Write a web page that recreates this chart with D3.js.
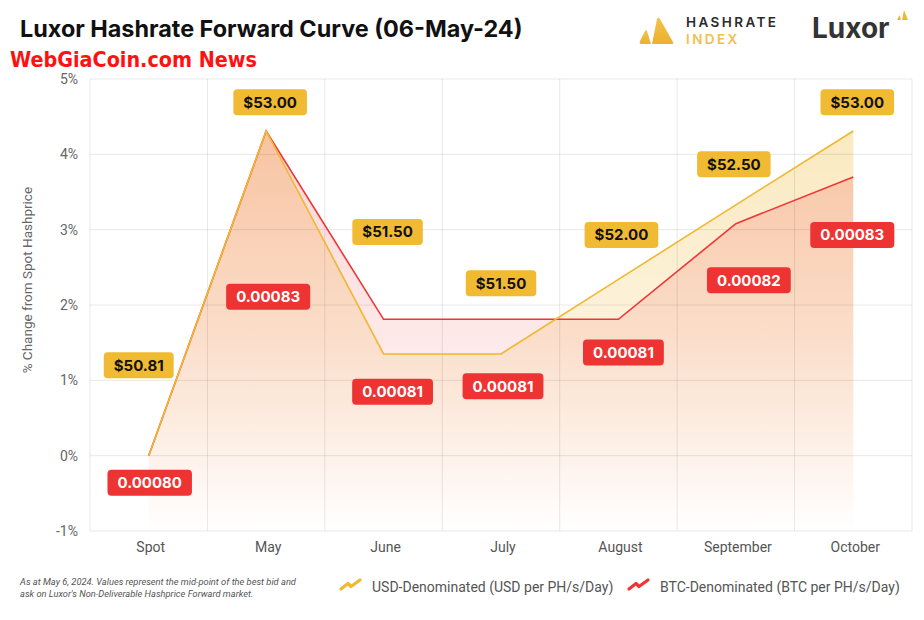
<!DOCTYPE html>
<html><head><meta charset="utf-8">
<script src="https://cdn.jsdelivr.net/npm/d3@7"></script>
<style>
html,body{margin:0;padding:0;background:#fff;}
svg{display:block;}
</style></head>
<body>
<svg id="chart" width="924" height="620"></svg>
<script>
// ---- data ----
const categories = ["Spot","May","June","July","August","September","October"];
const usdPct = [0, 4.31, 1.35, 1.35, 2.34, 3.33, 4.31];
const btcPct = [0, 4.31, 1.81, 1.81, 1.81, 3.08, 3.70];
const usdLabels = ["$50.81","$53.00","$51.50","$51.50","$52.00","$52.50","$53.00"];
const btcLabels = ["0.00080","0.00083","0.00081","0.00081","0.00081","0.00082","0.00083"];
const yTicks = [-1,0,1,2,3,4,5];
const seriesNames = ["USD-Denominated (USD per PH/s/Day)","BTC-Denominated (BTC per PH/s/Day)"];
// label placement (value-axis units and px nudges)
const usdLabelAt = [1.20, 4.69, 2.97, 2.29, 2.93, 3.87, 4.69];
const usdLabelDx = [-10, 4, 4, 0, 3, -2, 4];
const btcLabelAt = [-0.36, 2.11, 0.85, 0.92, 1.37, 2.33, 2.93];
const btcLabelDx = [1, 2, 9, 2, 5, 13, -1];

const YEL = "#F0B72F", RED = "#EE3535";
const svg = d3.select("#chart");
const m = {l:90, r:12, t:79, b:89};
const W = 924, H = 620;
const x = d3.scaleBand().domain(categories).range([m.l, W-m.r]).padding(0);
const y = d3.scaleLinear().domain([-1,5]).range([H-m.b, m.t]);
const cx = c => x(c) + x.bandwidth()/2;

const defs = svg.append("defs");
function grad(id, color, op){
  const g = defs.append("linearGradient").attr("id", id).attr("gradientUnits","userSpaceOnUse")
    .attr("x1",0).attr("x2",0).attr("y1", y(4.6)).attr("y2", y(-1));
  g.append("stop").attr("offset","0").attr("stop-color",color).attr("stop-opacity",op);
  g.append("stop").attr("offset","0.55").attr("stop-color",color).attr("stop-opacity",op*0.5);
  g.append("stop").attr("offset","1").attr("stop-color",color).attr("stop-opacity",0);
}
grad("gy", YEL, 0.32);
grad("gr", RED, 0.22);

// areas
const area = vals => d3.area().x((d,i)=>cx(categories[i])).y0(y(-1)).y1(d=>y(d))(vals);
svg.append("path").attr("d", area(usdPct)).attr("fill","url(#gy)");
svg.append("path").attr("d", area(btcPct)).attr("fill","url(#gr)");

// grid
const grid = svg.append("g");
grid.selectAll(".h").data(yTicks).join("line")
  .attr("x1", m.l).attr("x2", W-m.r).attr("y1", d=>y(d)).attr("y2", d=>y(d))
  .attr("stroke","#000").attr("stroke-opacity",0.09).attr("stroke-width",1);
const vb = categories.map(c=>x(c)).concat([W-m.r]);
grid.selectAll(".v").data(vb).join("line")
  .attr("x1", d=>d).attr("x2", d=>d).attr("y1", y(5)).attr("y2", y(-1))
  .attr("stroke","#000").attr("stroke-opacity",0.09).attr("stroke-width",1);

// y axis
const yAxis = d3.axisLeft(y).tickValues(yTicks).tickFormat(d=>d+"%").tickSize(0).tickPadding(12);
const ya = svg.append("g").attr("transform",`translate(${m.l},0)`).call(yAxis);
ya.select(".domain").remove();
ya.selectAll("text").attr("font-family","Roboto").attr("font-size",14).attr("fill","#666");

svg.append("text").attr("transform",`translate(32,${y(2.33)}) rotate(-90)`)
  .attr("text-anchor","middle").attr("font-family","Roboto").attr("font-size",13.5).attr("fill","#666")
  .text("% Change from Spot Hashprice");

// x axis
const xAxis = d3.axisBottom(x).tickSize(0).tickPadding(10);
const xa = svg.append("g").attr("transform",`translate(2,${y(-1)+1})`).call(xAxis);
xa.select(".domain").remove();
xa.selectAll("text").attr("font-family","Roboto").attr("font-size",14).attr("fill","#555");

// lines
const line = vals => d3.line().x((d,i)=>cx(categories[i])).y(d=>y(d))(vals);
svg.append("path").attr("d", line(btcPct)).attr("fill","none").attr("stroke",RED).attr("stroke-width",1.6);
svg.append("path").attr("d", line(usdPct)).attr("fill","none").attr("stroke",YEL).attr("stroke-width",1.6);

// labels
function labels(texts, at, dx, bg, fg){
  const g = svg.append("g");
  texts.forEach((t,i)=>{
    const px = cx(categories[i]) + dx[i], py = y(at[i]);
    const lg = g.append("g").attr("transform",`translate(${px},${py})`);
    const r = lg.append("rect");
    const tx = lg.append("text").attr("text-anchor","middle").attr("dy","0.36em")
      .attr("font-family","Inter").attr("font-weight",700).attr("font-size",15).attr("fill",fg).text(t);
    const w = tx.node().getComputedTextLength() + 20;
    r.attr("x",-w/2).attr("y",-13).attr("width",w).attr("height",26).attr("rx",4)
      .attr("fill",bg);
  });
}
labels(usdLabels, usdLabelAt, usdLabelDx, "#F0BA33", "#111");
labels(btcLabels, btcLabelAt, btcLabelDx, "#EE3333", "#fff");

// title
svg.append("text").attr("x",20).attr("y",37).attr("font-family","Inter").attr("font-weight",700)
  .attr("font-size",23.4).attr("fill","#111").text("Luxor Hashrate Forward Curve (06-May-24)");
svg.append("text").attr("x",10).attr("y",67).attr("font-family","'DejaVu Sans Condensed','DejaVu Sans'")
  .attr("font-weight",700).attr("font-size",20.5).attr("fill","#FF1111")
  .attr("textLength",247).attr("lengthAdjust","spacingAndGlyphs")
  .text("WebGiaCoin.com News");

// Hashrate Index logo
const lg = svg.append("g");
const lgr = defs.append("linearGradient").attr("id","lgold").attr("x1",0).attr("x2",0).attr("y1",0).attr("y2",1);
lgr.append("stop").attr("offset",0).attr("stop-color","#F3C44A");
lgr.append("stop").attr("offset",1).attr("stop-color","#EBB030");
lg.append("path").attr("d","M641,44 Q639,44 640,41 L645,31 Q646,29.5 647,31 L651,44 Z").attr("fill","url(#lgold)");
lg.append("path").attr("d","M652,44 L657,19 Q658,16 660,19 L673,42 Q674,44 671,44 Z").attr("fill","url(#lgold)");
lg.append("text").attr("x",686).attr("y",26.5).attr("font-family","Inter").attr("font-weight",600)
  .attr("font-size",13.5).attr("letter-spacing",2.4).attr("fill","#2b2b2b").text("HASHRATE");
lg.append("text").attr("x",686).attr("y",44).attr("font-family","Inter").attr("font-weight",600)
  .attr("font-size",13.5).attr("letter-spacing",2.4).attr("fill","#F2C04C").text("INDEX");
lg.append("text").attr("x",812).attr("y",38).attr("font-family","Inter").attr("font-weight",700)
  .attr("font-size",28).attr("fill","#333").text("Luxor");
lg.append("path").attr("d","M897,20 L899.5,15 L901,20 Z M902,20 L904,10 L908,20 Z").attr("fill","#EFB830");

// footnote
const fn = svg.append("text").attr("font-family","Roboto").attr("font-style","italic")
  .attr("font-size",9.3).attr("fill","#555");
fn.append("tspan").attr("x",20).attr("y",585).text("As at May 6, 2024. Values represent the mid-point of the best bid and");
fn.append("tspan").attr("x",20).attr("y",597).text("ask on Luxor's Non-Deliverable Hashprice Forward market.");

// legend
const leg = svg.append("g");
const legItems = [{c:YEL, x:338}, {c:RED, x:626}];
legItems.forEach((it,i)=>{
  leg.append("path").attr("d",`M${it.x+3},${589} L${it.x+10},${583.5} L${it.x+13},${586.5} L${it.x+22},${580}`)
    .attr("fill","none").attr("stroke",it.c).attr("stroke-width",3.2).attr("stroke-linecap","round").attr("stroke-linejoin","round");
  leg.append("text").attr("x",it.x+34).attr("y",592).attr("font-family","Roboto").attr("font-size",14)
    .attr("fill","#555").text(seriesNames[i]);
});
</script>
</body></html>
